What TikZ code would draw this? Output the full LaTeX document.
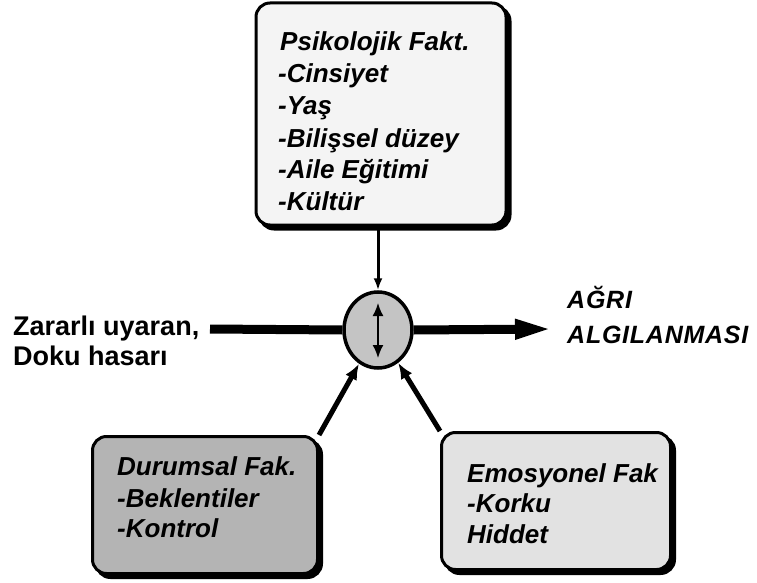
\documentclass[tikz,border=0pt]{standalone}
\usepackage{fontspec}
\setmainfont{Liberation Sans}
\usetikzlibrary{arrows.meta,shapes.geometric}
\definecolor{psyfill}{HTML}{F4F4F4}
\definecolor{durfill}{HTML}{B4B4B4}
\definecolor{emofill}{HTML}{E2E2E2}
\definecolor{circfill}{HTML}{C4C4C4}
\begin{document}
\begin{tikzpicture}[x=1pt,y=-1pt,
  factorbox/.style={draw=black, line width=3pt, rounded corners=14pt, inner sep=0pt,
    preaction={draw=black, fill=black, line width=3pt, transform canvas={shift={(4pt,-4pt)}}}},
  boxtext/.style={anchor=base west, inner sep=0pt, font=\bfseries\itshape\fontsize{26}{30}\selectfont},
  lefttext/.style={anchor=base west, inner sep=0pt, font=\bfseries\fontsize{27}{30}\selectfont},
  righttext/.style={anchor=base west, inner sep=0pt, font=\bfseries\itshape\fontsize{25}{30}\selectfont\addfontfeature{LetterSpace=3}},
  feed/.style={line width=5pt, -{Latex[length=16pt,width=13pt]}}
]
\useasboundingbox (0,0) rectangle (757,583);

% boxes
\node[factorbox, fill=psyfill, minimum width=250pt, minimum height=222pt] (psy) at (381,114) {};
\node[factorbox, fill=durfill, minimum width=225pt, minimum height=137pt] (dur) at (205,505) {};
\node[factorbox, fill=emofill, minimum width=229pt, minimum height=137pt] (emo) at (556,501) {};

% central circle
\node[ellipse, draw=black, line width=3.5pt, fill=circfill, minimum width=68pt, minimum height=76pt] (circ) at (378,330) {};

% box texts
\node[boxtext] (p1) at (280,51) {Psikolojik Fakt.};
\node[boxtext] (p2) at (278,83) {-Cinsiyet};
\node[boxtext] (p3) at (278,114) {-Yaş};
\node[boxtext] (p4) at (278,147) {-Bilişsel düzey};
\node[boxtext] (p5) at (278,178) {-Aile Eğitimi};
\node[boxtext] (p6) at (278,210) {-Kültür};

\node[boxtext] (d1) at (117,475) {Durumsal Fak.};
\node[boxtext] (d2) at (117,507) {-Beklentiler};
\node[boxtext] (d3) at (117,537) {-Kontrol};

\node[boxtext] (e1) at (467,482) {Emosyonel Fak};
\node[boxtext] (e2) at (467,512) {-Korku};
\node[boxtext] (e3) at (467,543) {Hiddet};

% side texts
\node[lefttext] (z1) at (13,335) {Zararlı uyaran,};
\node[lefttext] (z2) at (13,365) {Doku hasarı};
\node[righttext] (a1) at (567,308) {AĞRI};
\node[righttext] (a2) at (567,343) {ALGILANMASI};

% connectors
\coordinate (hin) at (210,329);
\coordinate (hout) at (553,329);
\draw[line width=9pt] (hin) -- (circ.west);
\draw[line width=9pt, -{Triangle[length=38pt,width=18pt]}] (circ.east) -- (hout);
\draw[line width=3pt, -{Latex[length=12pt,width=9pt]}] (circ.north |- psy.south) -- (circ.north);
\draw[feed] (dur.north east) -- (circ);
\draw[feed] (emo.north west) -- (circ);

% inner double arrow
\coordinate (itop) at ([yshift=27pt]circ.center);
\coordinate (ibot) at ([yshift=-28pt]circ.center);
\draw[line width=1.8pt, {Latex[length=13pt,width=11pt]}-{Latex[length=13pt,width=11pt]}] (itop) -- (ibot);
\end{tikzpicture}
\end{document}
